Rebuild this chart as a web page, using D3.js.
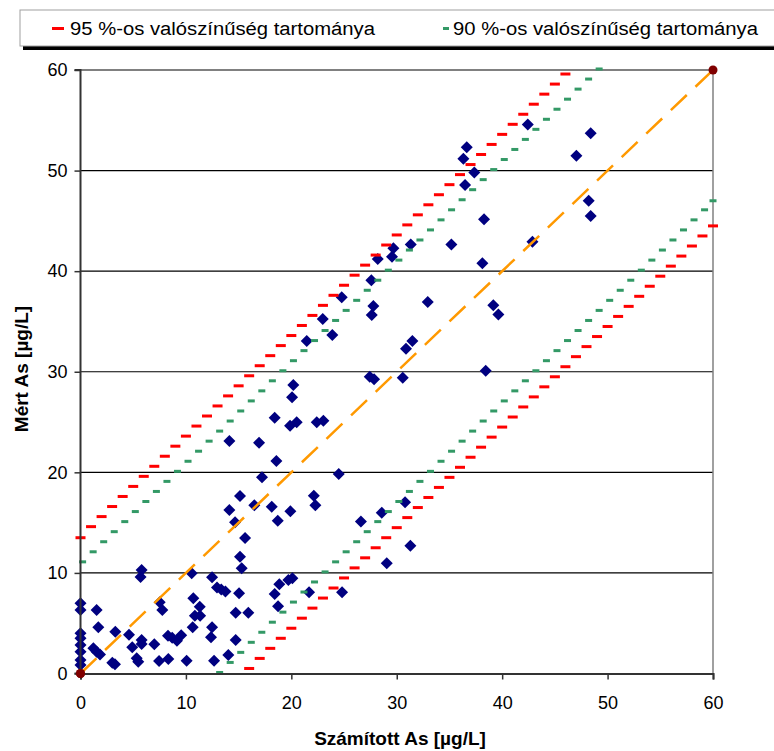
<!DOCTYPE html>
<html>
<head>
<meta charset="utf-8">
<script src="https://cdn.jsdelivr.net/npm/d3@7"></script>
<style>
  html, body { margin: 0; padding: 0; background: #fff; }
  svg { display: block; font-family: "Liberation Sans", Arial, sans-serif; }
</style>
</head>
<body>
<svg id="chart" width="774" height="751"></svg>
<script>
// ---------------- DATA ----------------
const xTicks = [0, 10, 20, 30, 40, 50, 60];
const yTicks = [0, 10, 20, 30, 40, 50, 60];
const xTitle = "Számított As [µg/L]";
const yTitle = "Mért As [µg/L]";
const legendLabels = ["95 %-os valószínűség tartománya", "90 %-os valószínűség tartománya"];

// measured vs calculated As points [calculated, measured]
const points = [
  [0,6.98],[0,6.31],[0,4.0],[0,3.5],[0,2.83],[0,2.17],[0,1.34],[0,0.85],
  [1.53,6.31],[1.69,4.59],[1.22,2.5],[1.53,2.17],[1.85,1.9],[3.02,1.07],[3.27,0.91],
  [3.3,4.16],[4.6,3.86],[4.91,2.6],[5.33,1.51],[5.48,1.17],[5.8,3.33],[5.8,2.93],
  [5.8,10.29],[5.7,9.6],[7.0,2.9],[7.45,1.24],[8.33,1.44],[8.3,3.75],[8.7,3.55],
  [9.15,3.25],[9.55,3.8],[10.07,1.27],[10.55,9.96],[10.7,7.47],[11.31,6.64],
  [10.64,4.59],[10.85,5.75],[11.35,5.75],[7.51,7.08],[7.76,6.31],[12.48,9.56],
  [12.95,8.55],[13.35,8.35],[13.75,8.15],[15.04,7.97],[14.72,6.04],[15.92,6.04],
  [12.48,4.59],[12.38,3.6],[14.72,3.33],[14.02,1.84],[12.67,1.27],[15.13,11.61],
  [15.29,10.46],[15.61,13.47],[14.12,16.25],[14.66,15.03],[15.13,17.64],[16.49,16.72],
  [18.14,16.58],[18.71,15.19],[19.91,16.12],[22.13,17.67],[22.28,16.72],[17.22,19.5],
  [18.58,21.12],[24.5,19.83],[14.12,23.11],[16.94,22.94],[18.42,25.43],[19.88,24.63],
  [20.51,24.97],[22.41,24.97],[23.04,25.13],[20.19,28.68],[20.07,27.46],
  [18.86,8.87],[19.72,9.29],[20.1,9.46],[18.42,7.9],[21.68,8.07],[24.81,8.07],
  [18.74,6.68],[29.05,10.95],[30.79,17.02],[28.58,15.99],[31.29,12.7],[26.6,15.1],
  [27.44,29.5],[27.85,29.25],[30.57,29.4],[38.44,30.1],[30.88,32.29],[31.48,33.05],
  [21.46,33.05],[23.89,33.65],[22.98,35.24],[24.78,37.4],[27.78,36.53],[27.63,35.64],
  [32.94,36.93],[39.16,36.6],[39.64,35.7],[27.59,39.09],[28.2,41.2],[29.55,41.43],
  [29.68,42.27],[31.33,42.66],[35.18,42.66],[38.12,40.78],[38.28,45.15],[36.64,52.31],
  [36.32,51.17],[37.36,49.82],[36.48,48.56],[42.43,54.59],[48.4,53.7],[47.04,51.47],
  [48.21,47.0],[48.4,45.48],[42.87,42.92]
];

// identity line end points and marked end points
const identityX = [0, 60];
const identityY = [0, 60];

// 95 % band (red dashes)
const up95X = [0,1,2,3,4,5,6,7,8,9,10,11,12,13,14,15,16,17,18,19,20,21,22,23,24,25,26,27,28,29,30,31,32,33,34,35,36,37,38,39,40,41,42,43,44,45,46];
const up95Y = [13.5,14.6,15.6,16.6,17.6,18.6,19.6,20.6,21.6,22.6,23.6,24.6,25.6,26.6,27.6,28.6,29.6,30.6,31.6,32.6,33.6,34.6,35.6,36.6,37.6,38.6,39.6,40.6,41.6,42.6,43.6,44.6,45.6,46.6,47.6,48.6,49.6,50.6,51.6,52.6,53.6,54.6,55.6,56.6,57.6,58.6,59.6];
const lo95X = [16,17,18,19,20,21,22,23,24,25,26,27,28,29,30,31,32,33,34,35,36,37,38,39,40,41,42,43,44,45,46,47,48,49,50,51,52,53,54,55,56,57,58,59,60];
const lo95Y = [0.5,1.5,2.5,3.5,4.5,5.5,6.5,7.5,8.5,9.5,10.5,11.5,12.5,13.5,14.5,15.5,16.5,17.5,18.5,19.5,20.5,21.5,22.5,23.5,24.5,25.5,26.5,27.5,28.5,29.5,30.5,31.5,32.5,33.5,34.5,35.5,36.5,37.5,38.5,39.5,40.5,41.5,42.5,43.5,44.5];

// 90 % band (green dashes)
const up90X = [0.2,1.2,2.2,3.2,4.2,5.2,6.2,7.2,8.2,9.2,10.2,11.2,12.2,13.2,14.2,15.2,16.2,17.2,18.2,19.2,20.2,21.2,22.2,23.2,24.2,25.2,26.2,27.2,28.2,29.2,30.2,31.2,32.2,33.2,34.2,35.2,36.2,37.2,38.2,39.2,40.2,41.2,42.2,43.2,44.2,45.2,46.2,47.2,48.2,49.2];
const up90Y = [11.1,12.1,13.1,14.1,15.1,16.1,17.1,18.1,19.1,20.1,21.1,22.1,23.1,24.1,25.1,26.1,27.1,28.1,29.1,30.1,31.1,32.1,33.1,34.1,35.1,36.1,37.1,38.1,39.1,40.1,41.1,42.1,43.1,44.1,45.1,46.1,47.1,48.1,49.1,50.1,51.1,52.1,53.1,54.1,55.1,56.1,57.1,58.1,59.1,60.1];
const lo90X = [13.2,14.2,15.2,16.2,17.2,18.2,19.2,20.2,21.2,22.2,23.2,24.2,25.2,26.2,27.2,28.2,29.2,30.2,31.2,32.2,33.2,34.2,35.2,36.2,37.2,38.2,39.2,40.2,41.2,42.2,43.2,44.2,45.2,46.2,47.2,48.2,49.2,50.2,51.2,52.2,53.2,54.2,55.2,56.2,57.2,58.2,59.2,60.0];
const lo90Y = [0.1,1.1,2.1,3.1,4.1,5.1,6.1,7.1,8.1,9.1,10.1,11.1,12.1,13.1,14.1,15.1,16.1,17.1,18.1,19.1,20.1,21.1,22.1,23.1,24.1,25.1,26.1,27.1,28.1,29.1,30.1,31.1,32.1,33.1,34.1,35.1,36.1,37.1,38.1,39.1,40.1,41.1,42.1,43.1,44.1,45.1,46.1,47.0];

// ---------------- CHART ----------------
const svg = d3.select("#chart");
const x = d3.scaleLinear().domain([0, 60]).range([80.5, 713]);
const y = d3.scaleLinear().domain([0, 60]).range([673.5, 70]);

const RED = "#ff0000", GREEN = "#339966", NAVY = "#000080", ORANGE = "#ff9900", DARKRED = "#800000";

// gridlines
svg.append("g").selectAll("line")
  .data(yTicks.filter(t => t > 0 && t < 60))
  .join("line")
  .attr("x1", x(0)).attr("x2", x(60))
  .attr("y1", d => y(d)).attr("y2", d => y(d))
  .attr("stroke", "#000").attr("stroke-width", 1.2);

// top and right border
svg.append("line").attr("x1", x(0)).attr("x2", x(60)).attr("y1", y(60)).attr("y2", y(60))
  .attr("stroke", "#808080").attr("stroke-width", 2);
svg.append("line").attr("x1", x(60)).attr("x2", x(60)).attr("y1", y(60)).attr("y2", y(0))
  .attr("stroke", "#808080").attr("stroke-width", 1.5);

// diamonds
const diamond = "M0,-6L6,0L0,6L-6,0Z";
svg.append("g").selectAll("path")
  .data(points)
  .join("path")
  .attr("d", diamond)
  .attr("transform", d => `translate(${x(d[0])},${y(d[1])})`)
  .attr("fill", NAVY);

// identity line (orange dashed)
svg.append("line")
  .attr("x1", x(identityX[0])).attr("y1", y(identityY[0]))
  .attr("x2", x(identityX[1])).attr("y2", y(identityY[1]))
  .attr("stroke", ORANGE).attr("stroke-width", 2.5)
  .attr("stroke-dasharray", "22,12");

// band markers
function band(xs, ys, color, w) {
  svg.append("g").selectAll("rect")
    .data(xs.map((v, i) => [v, ys[i]]))
    .join("rect")
    .attr("x", d => x(d[0]) - w / 2)
    .attr("y", d => y(d[1]) - 1.5)
    .attr("width", w).attr("height", 3)
    .attr("fill", color);
}
band(up90X, up90Y, GREEN, 7);
band(lo90X, lo90Y, GREEN, 7);
band(up95X, up95Y, RED, 10);
band(lo95X, lo95Y, RED, 10);

// end point circles
svg.append("g").selectAll("circle")
  .data(identityX.map((v, i) => [v, identityY[i]]))
  .join("circle")
  .attr("cx", d => x(d[0])).attr("cy", d => y(d[1]))
  .attr("r", 4.5).attr("fill", DARKRED);

// axes
const yAxis = d3.axisLeft(y).tickValues(yTicks).tickSize(6).tickPadding(7).tickFormat(d3.format("d"));
const xAxis = d3.axisBottom(x).tickValues(xTicks).tickSize(6).tickPadding(17).tickFormat(d3.format("d"));

const gy = svg.append("g").attr("transform", `translate(${x(0)},0)`).call(yAxis);
const gx = svg.append("g").attr("transform", `translate(0,${y(0)})`).call(xAxis);
[gx, gy].forEach(g => {
  g.select(".domain").attr("stroke", "#333").attr("stroke-width", 2);
  g.selectAll(".tick line").attr("stroke", "#333").attr("stroke-width", 1.5);
  g.selectAll(".tick text").attr("font-size", 18).attr("fill", "#000")
    .attr("font-family", "'Liberation Sans', Arial, sans-serif");
});
gy.select(".domain").attr("d", `M-6,${y(60)}H0V${y(0)}H-6`);

// redraw circle at origin over axes
svg.append("circle").attr("cx", x(identityX[0])).attr("cy", y(identityY[0])).attr("r", 4.5).attr("fill", DARKRED);

// axis titles
svg.append("text")
  .attr("x", 400).attr("y", 745)
  .attr("text-anchor", "middle")
  .attr("font-size", 19).attr("font-weight", "bold")
  .text(xTitle);
svg.append("text")
  .attr("transform", "translate(28,369) rotate(-90)")
  .attr("text-anchor", "middle")
  .attr("font-size", 19).attr("font-weight", "bold")
  .text(yTitle);

// legend
svg.append("rect").attr("x", 23).attr("y", 14).attr("width", 780).attr("height", 36).attr("fill", "#000");
svg.append("rect").attr("x", 20).attr("y", 10).attr("width", 780).attr("height", 36)
  .attr("fill", "#fff").attr("stroke", "#a0a0a0").attr("stroke-width", 1);
const legendItems = [
  { label: legendLabels[0], color: RED, w: 12, mx: 58, tx: 70 },
  { label: legendLabels[1], color: GREEN, w: 6, mx: 446, tx: 453 }
];
legendItems.forEach(it => {
  svg.append("rect").attr("x", it.mx - it.w / 2).attr("y", 27).attr("width", it.w).attr("height", 3).attr("fill", it.color);
  svg.append("text").attr("x", it.tx).attr("y", 34.5)
    .attr("font-size", 18)
    .attr("textLength", 305).attr("lengthAdjust", "spacingAndGlyphs")
    .text(it.label);
});
</script>
</body>
</html>
